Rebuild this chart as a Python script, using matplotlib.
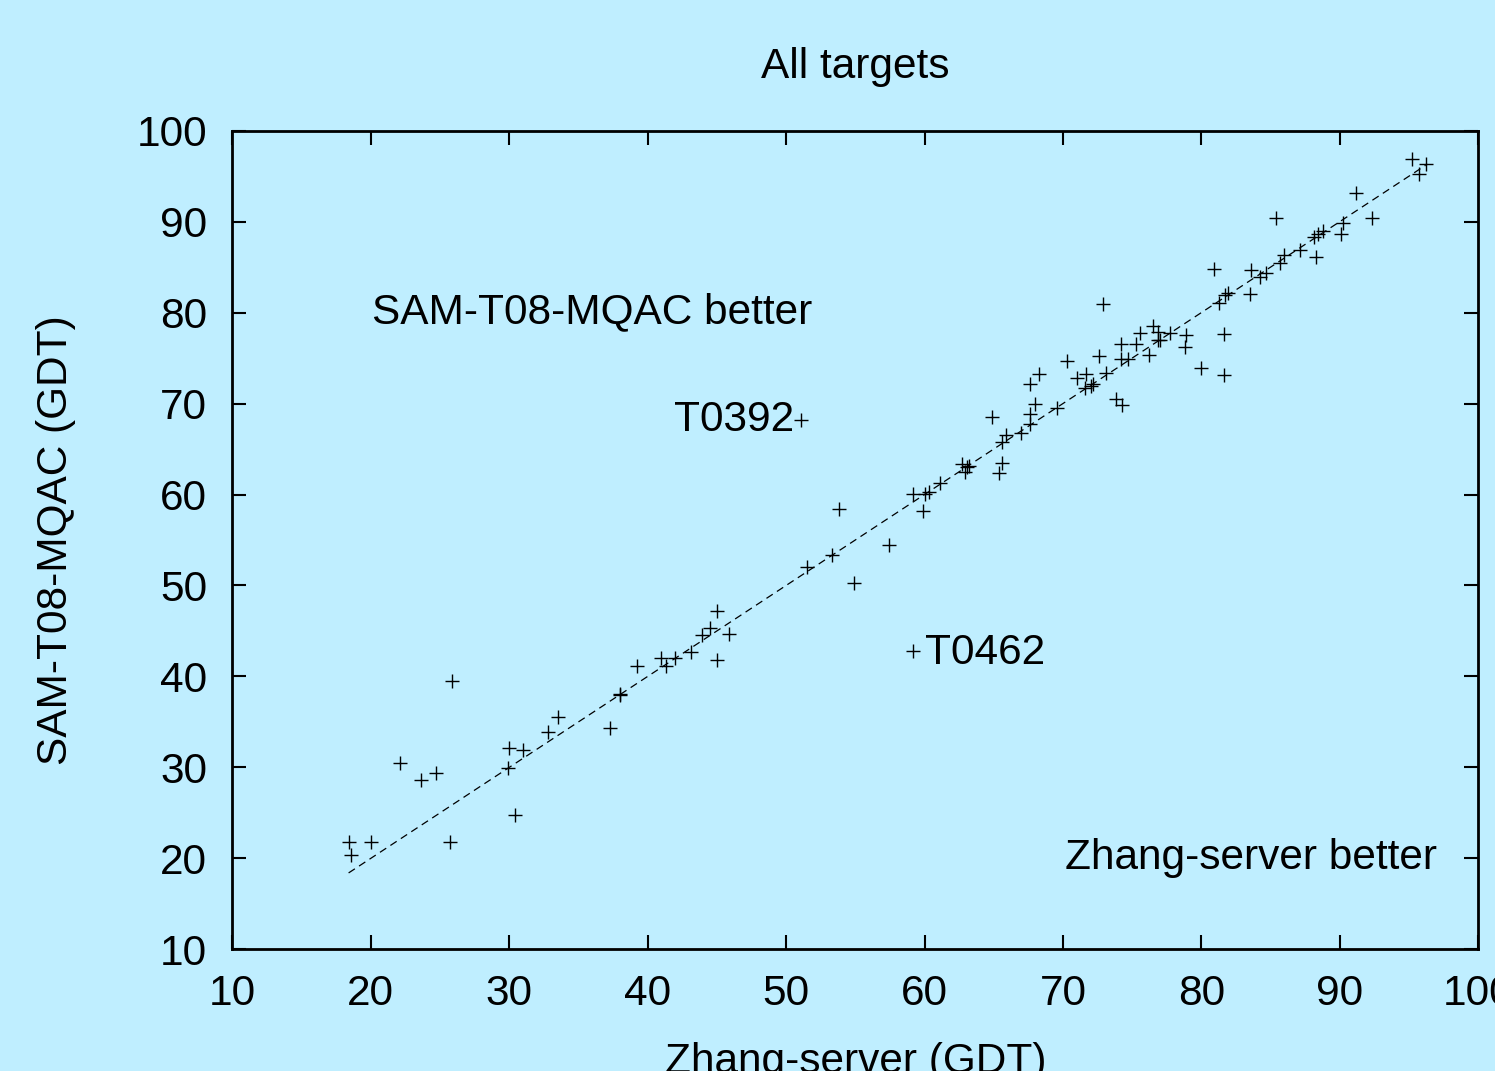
import matplotlib
matplotlib.use('Agg')
import matplotlib.pyplot as plt

#===== data (GDT scores) =====
zhang_gdt = [18.4, 18.6, 20.0, 22.1, 23.6, 24.7, 25.9, 25.7, 29.9, 30.0,
             30.4, 31.0, 32.8, 33.5, 37.3, 38.0, 38.0, 39.2, 41.0, 41.3,
             42.0, 43.1, 43.9, 44.5, 45.0, 45.0, 45.9, 51.5, 53.3, 53.8,
             54.9, 57.4, 59.2, 51.1, 59.2, 60.0, 59.9, 60.3, 61.1, 62.7,
             63.1, 63.2, 62.9, 65.6, 65.4, 64.9, 65.6, 65.9, 67.0, 67.6,
             67.6, 68.0, 67.6, 68.3, 69.6, 70.3, 71.0, 71.7, 72.2, 71.6,
             72.0, 72.6, 72.9, 73.1, 73.8, 74.3, 74.2, 74.2, 74.7, 75.3,
             75.6, 76.2, 76.5, 76.9, 76.9, 77.0, 77.7, 78.9, 78.8, 80.0,
             81.6, 81.6, 81.3, 81.9, 81.7, 83.5, 80.9, 83.6, 84.2, 84.7,
             85.7, 86.0, 87.1, 85.4, 88.3, 88.1, 88.8, 88.4, 90.2, 90.1,
             91.2, 92.3, 95.2, 96.2, 95.7]
samt08_gdt = [21.8, 20.4, 21.8, 30.5, 28.6, 29.4, 39.5, 21.8, 29.9, 32.1,
              24.8, 31.9, 33.9, 35.5, 34.3, 38.1, 38.0, 41.1, 42.0, 41.2,
              42.0, 42.7, 44.6, 45.3, 47.2, 41.8, 44.7, 52.0, 53.4, 58.4,
              50.3, 54.5, 42.8, 68.2, 60.1, 60.1, 58.2, 60.3, 61.3, 63.4,
              63.0, 63.1, 62.5, 63.5, 62.4, 68.5, 65.8, 66.5, 66.8, 67.8,
              68.9, 69.9, 72.1, 73.3, 69.5, 74.7, 72.8, 73.3, 72.2, 71.7,
              71.9, 75.2, 80.9, 73.4, 70.5, 69.8, 76.5, 74.9, 74.9, 76.5,
              77.8, 75.3, 78.5, 77.0, 77.9, 77.0, 77.8, 77.5, 76.2, 73.9,
              77.6, 73.1, 81.1, 82.1, 81.9, 82.0, 84.8, 84.7, 83.9, 84.4,
              85.4, 86.3, 86.9, 90.4, 86.1, 88.3, 89.0, 88.6, 89.8, 88.6,
              93.1, 90.4, 96.9, 96.3, 95.2]
axis_ticks = [10, 20, 30, 40, 50, 60, 70, 80, 90, 100]

bg = '#bfeeff'
fs = 30.5
plt.rcParams['font.family'] = ['Liberation Sans', 'DejaVu Sans']

fig = plt.figure(figsize=(14.95, 10.71), dpi=100, facecolor=bg)
ax = fig.add_axes([0.1554, 0.1136, 0.8334, 0.7644], facecolor=bg)

#diagonal reference line
lo, hi = min(zhang_gdt), max(zhang_gdt)
ax.plot([lo, hi], [lo, hi], color='black', lw=0.9, ls=(0, (6, 4)))

ax.plot(zhang_gdt, samt08_gdt, ls='none', marker='+', color='black',
        markersize=9.5, markeredgewidth=1.0)

ax.set_xlim(10, 100)
ax.set_ylim(10, 100)
ax.set_xticks(axis_ticks)
ax.set_yticks(axis_ticks)
ax.tick_params(direction='in', length=10, width=1.5, labelsize=fs,
               top=True, right=True, pad=18)
for s in ax.spines.values():
    s.set_linewidth(2)

ax.set_title('All targets', fontsize=fs, pad=38)
ax.set_xlabel('Zhang-server (GDT)', fontsize=fs, labelpad=20)
ax.set_ylabel('SAM-T08-MQAC (GDT)', fontsize=fs, labelpad=44)

ax.text(20.1, 80.0, 'SAM-T08-MQAC better', fontsize=fs, ha='left', va='center')
ax.text(97.0, 20.0, 'Zhang-server better', fontsize=fs, ha='right', va='center')
ax.text(50.6, 68.2, 'T0392', fontsize=fs, ha='right', va='center')
ax.text(60.0, 42.6, 'T0462', fontsize=fs, ha='left', va='center')

fig.savefig('out.png', dpi=100, facecolor=bg)
